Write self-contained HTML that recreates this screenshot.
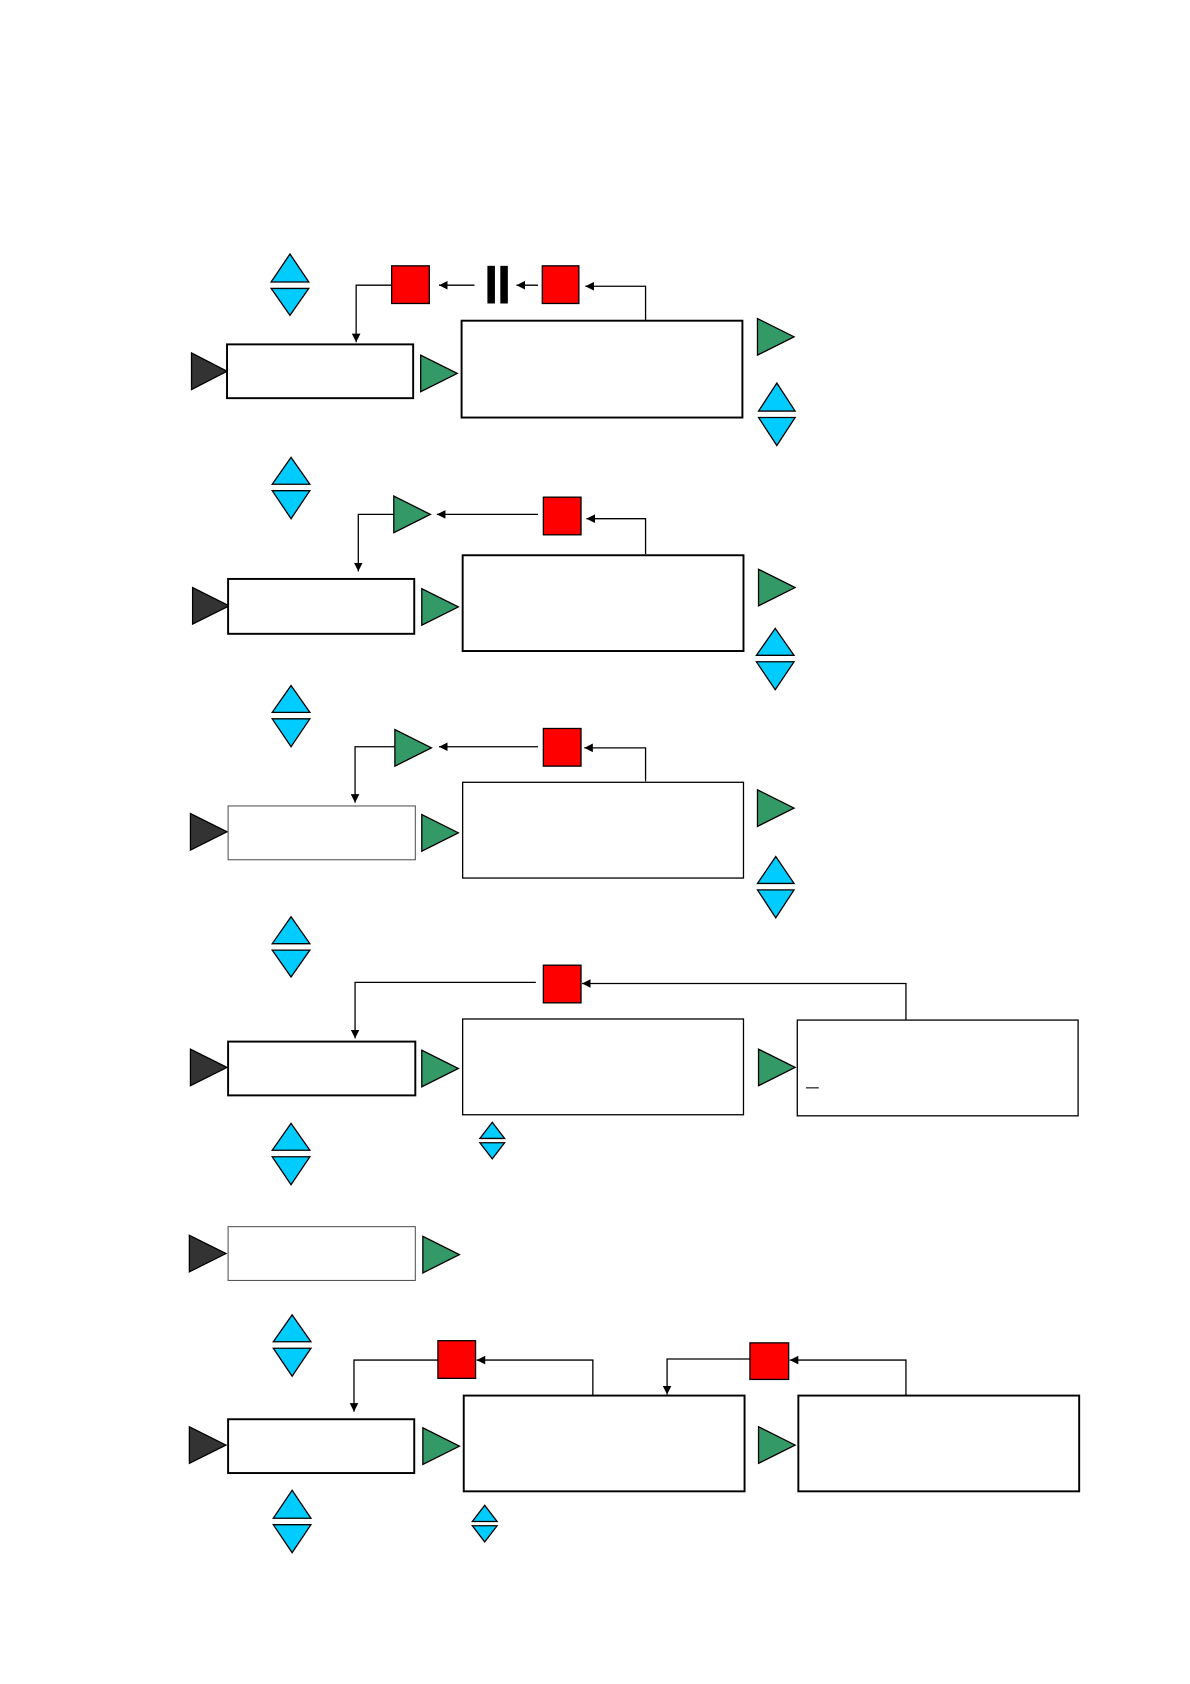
<!DOCTYPE html>
<html><head><meta charset="utf-8"><style>html,body{margin:0;padding:0;background:#fff}svg{display:block}</style></head>
<body>
<svg width="1190" height="1684" viewBox="0 0 1106 1565" xmlns="http://www.w3.org/2000/svg">
<defs>
<marker id="ah" viewBox="0 0 10 10" refX="10" refY="5" markerWidth="8" markerHeight="8" markerUnits="userSpaceOnUse" orient="auto"><path d="M0,0 L10,5 L0,10 z" fill="#000"/></marker>
</defs>
<g stroke="#000" stroke-width="1.2">
<!-- blue pairs -->
<g fill="#00ccff">
<polygon points="252,262 287,262 269.5,236"/><polygon points="252,268 287,268 269.5,293"/>
<polygon points="705,382 739,382 722,356"/><polygon points="705,388 739,388 722,414"/>
<polygon points="253,450 288,450 270.5,425"/><polygon points="253,456 288,456 270.5,482"/>
<polygon points="703,609 738,609 720.5,584"/><polygon points="703,615 738,615 720.5,641"/>
<polygon points="253,662 288,662 270.5,637"/><polygon points="253,668 288,668 270.5,694"/>
<polygon points="704,821 738,821 721,796"/><polygon points="704,827 738,827 721,853"/>
<polygon points="253,877 288,877 270.5,852"/><polygon points="253,883 288,883 270.5,908"/>
<polygon points="446,1058 469,1058 457.5,1043"/><polygon points="446,1062 469,1062 457.5,1077"/>
<polygon points="253,1069 288,1069 270.5,1044"/><polygon points="253,1075 288,1075 270.5,1101"/>
<polygon points="254,1247 289,1247 271.5,1222"/><polygon points="254,1253 289,1253 271.5,1279"/>
<polygon points="254,1411 289,1411 271.5,1385"/><polygon points="254,1417 289,1417 271.5,1443"/>
<polygon points="439,1414 462,1414 450.5,1399"/><polygon points="439,1418 462,1418 450.5,1433"/>
</g>
<!-- black triangles -->
<g fill="#333">
<polygon points="178,328 178,362 211,345"/>
<polygon points="179,546 179,580 213,563"/>
<polygon points="177,756 177,790 211,773"/>
<polygon points="177,975 177,1009 211,992"/>
<polygon points="176,1148 176,1182 210,1165"/>
<polygon points="176,1326 176,1360 210,1343"/>
</g>
<!-- green triangles -->
<g fill="#339966">
<polygon points="391,330 391,364 425,347"/>
<polygon points="704,296 704,330 738,313"/>
<polygon points="366,461 366,495 400,478"/>
<polygon points="392,547 392,581 426,564"/>
<polygon points="705,529 705,563 739,546"/>
<polygon points="367,678 367,712 401,695"/>
<polygon points="392,757 392,791 426,774"/>
<polygon points="704,734 704,768 738,751"/>
<polygon points="392,976 392,1010 426,993"/>
<polygon points="705,975 705,1009 739,992"/>
<polygon points="393,1149 393,1183 427,1166"/>
<polygon points="393,1327 393,1361 427,1344"/>
<polygon points="705,1326 705,1360 739,1343"/>
</g>
<!-- red squares -->
<g fill="#ff0000">
<rect x="364" y="247" width="35" height="35"/>
<rect x="504" y="247" width="34" height="35"/>
<rect x="505" y="462" width="35" height="35"/>
<rect x="505" y="677" width="35" height="35"/>
<rect x="505" y="897" width="35" height="35"/>
<rect x="407" y="1246" width="35" height="35"/>
<rect x="697" y="1248" width="36" height="34"/>
</g>
</g>
<!-- pause bars -->
<rect x="453" y="247" width="7" height="35" fill="#000"/>
<rect x="465" y="247" width="7" height="35" fill="#000"/>
<!-- boxes -->
<g fill="#fff" stroke="#000" stroke-width="1.8">
<rect x="211" y="320" width="173" height="50"/>
<rect x="429" y="298" width="261" height="90"/>
<rect x="212" y="538" width="173" height="51"/>
<rect x="430" y="516" width="261" height="89"/>
<rect x="430" y="727" width="261" height="89" stroke-width="1.2"/>
<rect x="430" y="947" width="261" height="89" stroke-width="1.2"/>
<rect x="741" y="948" width="261" height="89" stroke-width="1.2"/>
<rect x="212" y="968" width="174" height="50"/>
<rect x="212" y="1319" width="173" height="50"/>
<rect x="431" y="1297" width="261" height="89"/>
<rect x="742" y="1297" width="261" height="89"/>
</g>
<g fill="#fff" stroke="#555" stroke-width="1">
<rect x="212" y="749" width="174" height="50"/>
<rect x="212" y="1140" width="174" height="50"/>
</g>
<line x1="749" y1="1011" x2="761" y2="1011" stroke="#000" stroke-width="1"/>
<!-- connectors -->
<g fill="none" stroke="#000" stroke-width="1.2" marker-end="url(#ah)">
<polyline points="364,265 331,265 331,318"/>
<polyline points="441,265 408,265"/>
<polyline points="500,265 480,265"/>
<polyline points="600,298 600,266 544,266"/>
<polyline points="366,478 333,478 333,531"/>
<polyline points="500,478 406,478"/>
<polyline points="600,515 600,482 545,482"/>
<polyline points="367,694 330,694 330,746"/>
<polyline points="500,694 408,694"/>
<polyline points="600,726 600,695 543,695"/>
<polyline points="498,913 330,913 330,965"/>
<polyline points="842,948 842,914 541,914"/>
<polyline points="407,1264 329,1264 329,1312"/>
<polyline points="551,1297 551,1264 443,1264"/>
<polyline points="697,1263 620,1263 620,1296"/>
<polyline points="842,1297 842,1264 734,1264"/>
</g>
</svg>
</body></html>
